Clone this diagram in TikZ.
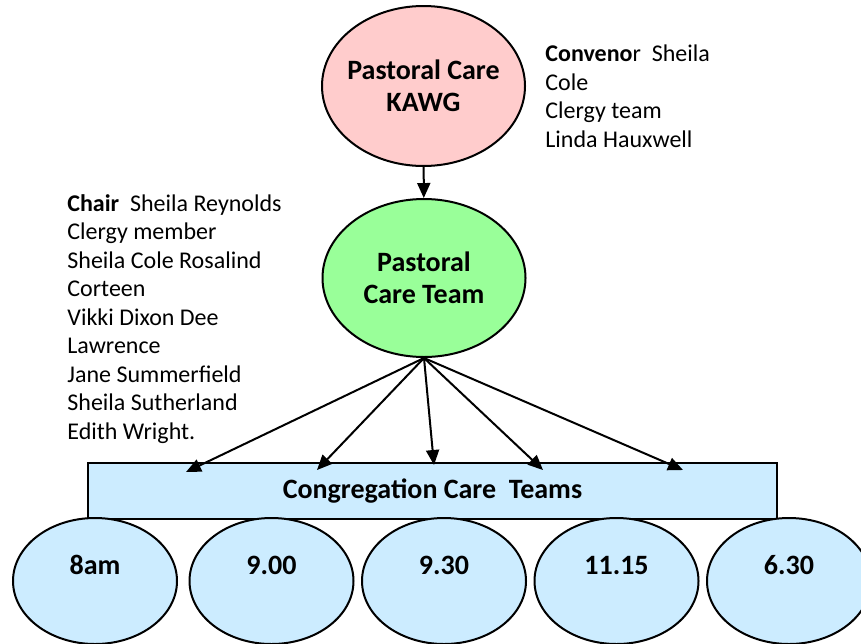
\documentclass[tikz,border=0pt]{standalone}
\usepackage{fontspec}
\setmainfont{Carlito}
\usetikzlibrary{shapes.geometric,arrows.meta}

\definecolor{kawgpink}{HTML}{FFCCCC}
\definecolor{teamgreen}{HTML}{99FF99}
\definecolor{ccblue}{HTML}{CCECFF}

\tikzset{
  bubble/.style={ellipse, draw, line width=1pt, inner sep=-6pt, align=center,
    font=\fontsize{14}{16}\selectfont\bfseries, minimum width=101.5pt, minimum height=80pt},
  slot/.style={ellipse, draw, line width=1pt, fill=ccblue, minimum width=82pt, minimum height=63pt,
    label={[font=\fontsize{14}{16}\selectfont\bfseries, yshift=8pt]center:#1}},
  notes/.style={anchor=base west, inner sep=0pt, align=left, font=\fontsize{12}{14.25}\selectfont},
  link/.style={line width=1pt, -{Triangle[length=7.5pt,width=6.5pt]}}
}

\begin{document}
\begin{tikzpicture}[x=0.5pt,y=-0.5pt]
\useasboundingbox (0,0) rectangle (861,643);
\clip (0,0) rectangle (861,643);
% committees
\node[bubble, fill=kawgpink] (kawg) at (423.5,86) {Pastoral Care\\KAWG};
\node[bubble, fill=teamgreen, minimum height=79pt] (team) at (424,278) {Pastoral\\Care Team};
\node[notes] (convenor) at (545,147) {\textbf{Conveno}r\ \ Sheila\\Cole\\Clergy team\\Linda Hauxwell};
\node[notes] (chair) at (67,439) {\textbf{Chair}\ \ Sheila Reynolds\\Clergy member\\Sheila Cole Rosalind\\Corteen\\Vikki Dixon Dee\\Lawrence\\Jane Summerfield\\Sheila Sutherland\\Edith Wright.};
% congregation teams
\node[draw, line width=1pt, fill=ccblue, minimum width=344.5pt, minimum height=28pt,
  font=\fontsize{14}{16}\selectfont\bfseries] (cct) at (432.5,491) {Congregation Care\ \ Teams};
\node[slot=8am] (s1) at (95,581) {};
\node[slot=9.00] (s2) at (271.5,581) {};
\node[slot=9.30] (s3) at (444,581) {};
\node[slot=11.15] (s4) at (616.5,581) {};
\node[slot=6.30] (s5) at (789,581) {};
\coordinate (d1) at (186,472);
\coordinate (d2) at (317,470);
\coordinate (d3) at (434,465);
\coordinate (d4) at (543,470);
\coordinate (d5) at (683,470);
\draw[link] (kawg) -- (team);
\draw[link] (team.south) -- (d1);
\draw[link] (team.south) -- (d2);
\draw[link] (team.south) -- (d3);
\draw[link] (team.south) -- (d4);
\draw[link] (team.south) -- (d5);
\end{tikzpicture}
\end{document}
